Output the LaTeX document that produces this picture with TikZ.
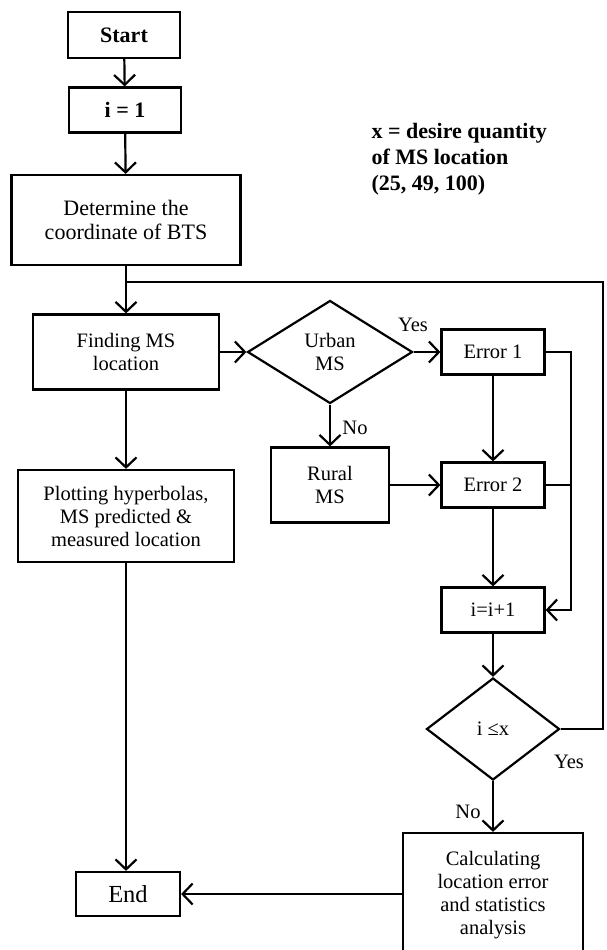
\documentclass[tikz,border=0pt]{standalone}
\usepackage{fontspec}
\setmainfont{Liberation Serif}
\usetikzlibrary{shapes.geometric,arrows.meta}

\begin{document}
\begin{tikzpicture}[
        x=1pt,y=-1pt,
        block/.style={rectangle,draw,line width=2.2pt,align=center,inner sep=2pt,
            font=\fontsize{20.5}{23}\selectfont},
        decision/.style={diamond,draw,line width=2.2pt,aspect=1.6,align=center,
            inner sep=0pt,font=\fontsize{20.5}{23}\selectfont},
        flow/.style={-{Straight Barb[length=10pt,width=21pt]},line width=2.2pt},
        link/.style={line width=2.2pt},
        answer/.style={font=\fontsize{20.5}{23}\selectfont}
    ]
    \useasboundingbox (0,0) rectangle (606,950);

    \node[block,minimum width=112pt,minimum height=46pt,
        font=\fontsize{22}{26}\selectfont\bfseries] (start) at (124,35) {Start};
    \node[block,minimum width=112pt,minimum height=45pt,
        font=\fontsize{22}{26}\selectfont\bfseries] (init) at (125,110) {i = 1};
    \node[block,minimum width=229pt,minimum height=90pt,
        font=\fontsize{22}{24}\selectfont] (bts) at (126,220) {Determine the\\coordinate of BTS};

    \node[block,minimum width=186pt,minimum height=75pt] (finding) at (126,352) {Finding MS\\location};
    \node[decision,minimum width=165pt,minimum height=103pt] (urban) at (330,352) {Urban\\MS};
    \node[block,minimum width=103pt,minimum height=45pt] (err1) at (493,352) {Error 1};
    \node[block,minimum width=118pt,minimum height=75pt] (rural) at (330,485) {Rural\\MS};
    \node[block,minimum width=103pt,minimum height=45pt] (err2) at (493,485) {Error 2};
    \node[block,minimum width=216pt,minimum height=92pt] (plot) at (126,516)
        {Plotting hyperbolas,\\MS predicted \&\\measured location};
    \node[block,minimum width=103pt,minimum height=45pt] (incr) at (493,610) {i=i+1};
    \node[decision,minimum width=133pt,minimum height=102pt] (check) at (493,729) {i ≤x};
    \node[block,minimum width=180pt,minimum height=124pt] (calc) at (493,895)
        {Calculating\\location error\\and statistics\\analysis};
    \node[block,minimum width=104pt,minimum height=44pt,
        font=\fontsize{24.5}{28}\selectfont] (finish) at (128,894) {End};

    \node[anchor=west,align=left,font=\fontsize{22}{26}\selectfont\bfseries] (note) at (368,159)
        {x = desire quantity\\of MS location\\(25, 49, 100)};

    \node[answer] (yesurban) at (413,325) {Yes};
    \node[answer] (nourban) at (355,428) {No};
    \node[answer] (yescheck) at (569,762) {Yes};
    \node[answer] (nocheck) at (468,812) {No};

    \draw[flow] (start) -- (init);
    \draw[flow] (init) -- (bts);
    \draw[flow] (bts) -- (finding);
    \draw[flow] (finding) -- (urban);
    \draw[flow] (urban) -- (err1);
    \draw[flow] (urban) -- (rural);
    \draw[flow] (rural) -- (err2);
    \draw[flow] (err1) -- (err2);
    \draw[flow] (err2) -- (incr);
    \draw[flow] (incr) -- (check);
    \draw[flow] (check) -- (calc);
    \draw[flow] (finding) -- (plot);
    \draw[flow] (plot.south) -- (plot.south |- finish.north);
    \draw[flow] (calc.west |- finish) -- (finish);

    \coordinate (rail) at (571,352);
    \draw[flow] (err1.east) -- (rail) |- (incr.east);
    \draw[link] (err2.east) -- (err2.east -| rail);

    \coordinate (join) at (126,282);
    \coordinate (corner) at (603,282);
    \draw[link] (check.east) -| (corner) -- (join);

\end{tikzpicture}
\end{document}
